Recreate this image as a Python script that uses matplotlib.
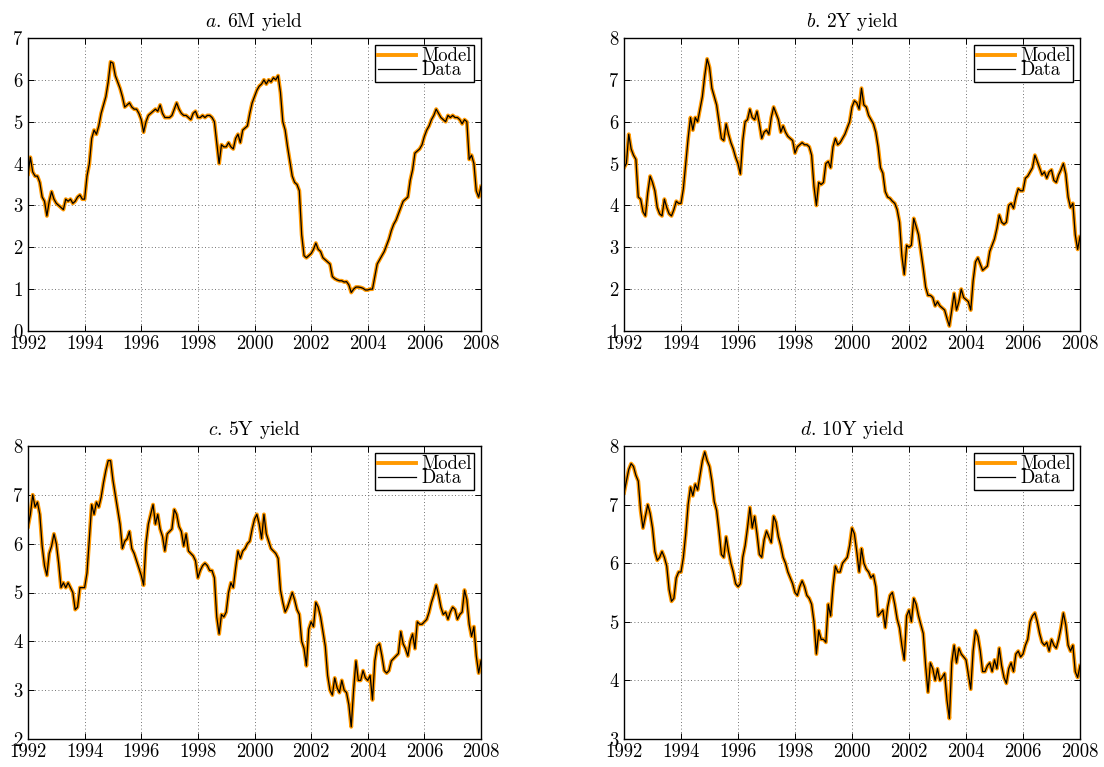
import numpy as np
import matplotlib
matplotlib.use("Agg")
import matplotlib.pyplot as plt

# ---------------- data (monthly, Jan 1992 ... Jan 2008) ----------------
start_year = 1992
titles = [r"$a$. 6M yield", r"$b$. 2Y yield", r"$c$. 5Y yield", r"$d$. 10Y yield"]
x_ticks = [1992, 1994, 1996, 1998, 2000, 2002, 2004, 2006, 2008]

data_6m = [
    3.75, 4.15, 3.8, 3.7, 3.7, 3.55, 3.2, 3.1, 2.75, 3.1, 3.33, 3.15,      # 1992
    3.05, 3.0, 2.95, 2.9, 3.15, 3.1, 3.15, 3.05, 3.1, 3.2, 3.25, 3.15,     # 1993
    3.15, 3.7, 4.0, 4.6, 4.8, 4.7, 4.9, 5.2, 5.4, 5.6, 5.95, 6.43,         # 1994
    6.4, 6.1, 5.95, 5.8, 5.6, 5.35, 5.4, 5.45, 5.35, 5.3, 5.3, 5.2,        # 1995
    5.05, 4.75, 5.0, 5.15, 5.2, 5.25, 5.3, 5.25, 5.4, 5.2, 5.1, 5.1,       # 1996
    5.1, 5.15, 5.3, 5.45, 5.3, 5.2, 5.15, 5.15, 5.1, 5.05, 5.2, 5.25,      # 1997
    5.1, 5.1, 5.15, 5.1, 5.15, 5.15, 5.1, 5.0, 4.5, 4.0, 4.45, 4.4,        # 1998
    4.4, 4.5, 4.4, 4.35, 4.6, 4.7, 4.5, 4.8, 4.85, 4.9, 5.2, 5.45,         # 1999
    5.6, 5.75, 5.85, 5.9, 6.0, 5.9, 6.0, 5.95, 6.05, 6.0, 6.1, 5.7,        # 2000
    5.0, 4.8, 4.4, 4.05, 3.7, 3.55, 3.5, 3.35, 2.3, 1.8, 1.75, 1.8,        # 2001
    1.85, 1.95, 2.1, 1.95, 1.9, 1.75, 1.7, 1.65, 1.6, 1.3, 1.25, 1.22,     # 2002
    1.2, 1.2, 1.17, 1.18, 1.1, 0.92, 1.0, 1.05, 1.05, 1.04, 1.02, 0.98,    # 2003
    0.98, 1.0, 1.0, 1.3, 1.6, 1.7, 1.8, 1.9, 2.05, 2.2, 2.4, 2.55,         # 2004
    2.65, 2.8, 2.95, 3.1, 3.15, 3.2, 3.6, 3.85, 4.25, 4.3, 4.35, 4.45,     # 2005
    4.65, 4.8, 4.9, 5.05, 5.15, 5.3, 5.2, 5.1, 5.05, 5.0, 5.15, 5.1,       # 2006
    5.15, 5.1, 5.1, 5.05, 4.95, 5.05, 5.0, 4.1, 4.2, 4.0, 3.35, 3.2,       # 2007
    3.45,                                                                  # 2008
]

data_2y = [
    4.9, 5.0, 5.7, 5.35, 5.2, 5.1, 4.2, 4.15, 3.85, 3.75, 4.3, 4.7,        # 1992
    4.55, 4.35, 3.95, 3.8, 3.75, 4.15, 3.95, 3.8, 3.75, 3.9, 4.1, 4.05,    # 1993
    4.05, 4.4, 5.0, 5.6, 6.1, 5.8, 6.1, 6.0, 6.3, 6.6, 7.1, 7.5,           # 1994
    7.3, 6.8, 6.6, 6.4, 6.0, 5.6, 5.55, 5.95, 5.7, 5.5, 5.35, 5.15,        # 1995
    5.0, 4.75, 5.55, 6.0, 6.05, 6.3, 6.1, 6.05, 6.25, 5.95, 5.6, 5.75,     # 1996
    5.8, 5.7, 6.1, 6.35, 6.2, 6.05, 5.75, 5.9, 5.75, 5.65, 5.6, 5.55,      # 1997
    5.25, 5.4, 5.45, 5.5, 5.45, 5.45, 5.4, 5.2, 4.45, 4.0, 4.55, 4.5,      # 1998
    4.55, 5.0, 5.05, 4.9, 5.4, 5.6, 5.45, 5.5, 5.6, 5.7, 5.85, 6.0,        # 1999
    6.35, 6.5, 6.45, 6.3, 6.8, 6.4, 6.35, 6.15, 6.05, 5.95, 5.75, 5.4,     # 2000
    4.9, 4.77, 4.33, 4.2, 4.17, 4.1, 4.05, 3.9, 3.6, 2.8, 2.35, 3.05,      # 2001
    3.0, 3.05, 3.69, 3.5, 3.3, 2.9, 2.5, 2.05, 1.85, 1.85, 1.8, 1.6,       # 2002
    1.7, 1.6, 1.55, 1.5, 1.3, 1.12, 1.5, 1.9, 1.5, 1.7, 2.0, 1.8,          # 2003
    1.75, 1.7, 1.5, 2.2, 2.65, 2.75, 2.6, 2.45, 2.5, 2.55, 2.9, 3.05,      # 2004
    3.2, 3.45, 3.77, 3.6, 3.55, 3.6, 4.0, 4.05, 3.93, 4.2, 4.4, 4.35,      # 2005
    4.35, 4.65, 4.7, 4.8, 4.9, 5.2, 5.05, 4.89, 4.73, 4.8, 4.65, 4.8,      # 2006
    4.85, 4.6, 4.55, 4.73, 4.85, 5.0, 4.75, 4.2, 3.95, 4.05, 3.3, 2.95,    # 2007
    3.25,                                                                  # 2008
]

data_5y = [
    6.35, 6.6, 7.0, 6.75, 6.85, 6.6, 5.95, 5.55, 5.35, 5.8, 5.95, 6.2,     # 1992
    6.0, 5.6, 5.1, 5.2, 5.1, 5.2, 5.1, 5.0, 4.65, 4.7, 5.1, 5.1,           # 1993
    5.1, 5.4, 6.1, 6.8, 6.6, 6.85, 6.75, 6.95, 7.25, 7.5, 7.7, 7.7,        # 1994
    7.3, 7.0, 6.7, 6.4, 5.9, 6.05, 6.1, 6.25, 5.9, 5.8, 5.65, 5.5,         # 1995
    5.35, 5.15, 6.0, 6.4, 6.6, 6.8, 6.4, 6.6, 6.3, 6.15, 5.85, 6.2,        # 1996
    6.25, 6.3, 6.7, 6.6, 6.35, 6.25, 5.95, 6.2, 5.85, 5.8, 5.75, 5.65,     # 1997
    5.3, 5.45, 5.55, 5.6, 5.55, 5.45, 5.45, 5.3, 4.5, 4.15, 4.55, 4.5,     # 1998
    4.6, 5.0, 5.2, 5.1, 5.5, 5.85, 5.7, 5.85, 5.9, 6.0, 6.05, 6.3,         # 1999
    6.5, 6.6, 6.4, 6.1, 6.6, 6.2, 6.05, 5.9, 5.85, 5.8, 5.7, 5.05,         # 2000
    4.8, 4.6, 4.7, 4.85, 5.0, 4.85, 4.65, 4.55, 4.0, 3.85, 3.5, 4.25,      # 2001
    4.4, 4.3, 4.8, 4.7, 4.5, 4.2, 3.9, 3.3, 3.0, 2.9, 3.25, 3.05,          # 2002
    2.95, 3.2, 3.0, 2.95, 2.7, 2.25, 3.0, 3.6, 3.2, 3.2, 3.4, 3.25,        # 2003
    3.2, 3.3, 2.8, 3.6, 3.9, 3.95, 3.7, 3.4, 3.35, 3.4, 3.6, 3.65,         # 2004
    3.7, 3.75, 4.2, 3.95, 3.85, 3.7, 4.0, 4.15, 3.85, 4.4, 4.35, 4.35,     # 2005
    4.4, 4.45, 4.6, 4.8, 4.95, 5.15, 4.95, 4.7, 4.55, 4.6, 4.45, 4.6,      # 2006
    4.7, 4.65, 4.45, 4.55, 4.6, 5.05, 4.85, 4.35, 4.1, 4.3, 3.7, 3.35,     # 2007
    3.6,                                                                   # 2008
]

data_10y = [
    7.2, 7.4, 7.6, 7.7, 7.65, 7.5, 7.4, 6.9, 6.6, 6.8, 7.0, 6.85,          # 1992
    6.6, 6.2, 6.05, 6.1, 6.2, 6.1, 5.95, 5.55, 5.35, 5.4, 5.75, 5.85,      # 1993
    5.85, 6.1, 6.5, 7.0, 7.3, 7.15, 7.35, 7.25, 7.5, 7.75, 7.9, 7.75,      # 1994
    7.65, 7.4, 7.05, 6.9, 6.55, 6.15, 6.1, 6.45, 6.2, 6.0, 5.85, 5.65,     # 1995
    5.6, 5.65, 6.1, 6.3, 6.6, 6.95, 6.6, 6.8, 6.5, 6.15, 6.1, 6.4,         # 1996
    6.55, 6.45, 6.35, 6.8, 6.7, 6.45, 6.3, 6.1, 6.0, 5.85, 5.75, 5.65,     # 1997
    5.5, 5.45, 5.6, 5.7, 5.6, 5.45, 5.4, 5.3, 5.0, 4.45, 4.85, 4.7,        # 1998
    4.7, 4.65, 5.3, 5.1, 5.6, 5.95, 5.85, 5.85, 6.0, 6.05, 6.1, 6.3,       # 1999
    6.6, 6.5, 6.2, 5.85, 6.25, 6.0, 5.9, 5.85, 5.75, 5.8, 5.6, 5.1,        # 2000
    5.15, 5.2, 4.9, 5.25, 5.45, 5.5, 5.3, 5.05, 4.9, 4.6, 4.35, 5.1,       # 2001
    5.2, 5.0, 5.4, 5.3, 5.1, 4.95, 4.8, 4.25, 3.8, 4.3, 4.2, 4.0,          # 2002
    4.2, 4.0, 4.05, 4.12, 3.66, 3.35, 4.3, 4.6, 4.3, 4.55, 4.45, 4.4,      # 2003
    4.35, 4.1, 3.85, 4.5, 4.85, 4.75, 4.5, 4.15, 4.15, 4.25, 4.3, 4.15,    # 2004
    4.35, 4.2, 4.55, 4.25, 4.05, 3.95, 4.2, 4.3, 4.15, 4.45, 4.5, 4.4,     # 2005
    4.45, 4.6, 4.7, 5.0, 5.1, 5.15, 5.0, 4.8, 4.65, 4.6, 4.65, 4.5,        # 2006
    4.7, 4.6, 4.55, 4.7, 4.9, 5.15, 4.95, 4.6, 4.5, 4.6, 4.15, 4.05,       # 2007
    4.25,                                                                  # 2008
]

# Model fit is visually indistinguishable from the data
model_6m, model_2y, model_5y, model_10y = data_6m, data_2y, data_5y, data_10y

y_limits = [(0, 7), (1, 8), (2, 8), (3, 8)]

# ---------------- style ----------------
plt.rcParams["font.family"] = "serif"
plt.rcParams["font.serif"] = ["cmr10", "DejaVu Serif"]
plt.rcParams["mathtext.fontset"] = "cm"
plt.rcParams["axes.unicode_minus"] = False

fig = plt.figure(figsize=(11.04, 7.67), dpi=100)
W, H = 1104.0, 767.0
boxes = [
    (28, 38, 481, 331),
    (624, 38, 1080, 331),
    (28, 446, 481, 739),
    (624, 446, 1080, 739),
]

series = [(model_6m, data_6m), (model_2y, data_2y), (model_5y, data_5y), (model_10y, data_10y)]
n = len(data_6m)
dates = start_year + np.arange(n) / 12.0

for k, (x0, y0, x1, y1) in enumerate(boxes):
    ax = fig.add_axes([x0 / W, 1 - y1 / H, (x1 - x0) / W, (y1 - y0) / H])
    mdl, dat = series[k]
    ax.plot(dates, mdl, color="#FF9900", lw=2.8, solid_joinstyle="round", label="Model")
    ax.plot(dates, dat, color="black", lw=0.9, label="Data")
    ax.set_xlim(1992, 2008)
    lo, hi = y_limits[k]
    ax.set_ylim(lo, hi)
    ax.set_xticks(x_ticks)
    ax.set_yticks(range(lo, hi + 1))
    ax.tick_params(direction="in", top=True, right=True, length=4, width=0.7,
                   labelsize=13.5, colors="black")
    ax.tick_params(axis="x", pad=3)
    ax.tick_params(axis="y", pad=4)
    ax.grid(True, color="#444444", linestyle=(0, (1, 3)), linewidth=0.6)
    for s in ax.spines.values():
        s.set_linewidth(1.0)
        s.set_color("black")
    ax.set_title(titles[k], fontsize=14, pad=8)
    leg = ax.legend(loc="upper right", fontsize=13.5, frameon=True, fancybox=False,
                    edgecolor="black", framealpha=1, borderpad=0.15, labelspacing=-0.2,
                    handlelength=2.0, handletextpad=0.3, borderaxespad=0.35)
    leg.get_frame().set_linewidth(1.0)

fig.savefig("out.png", dpi=100)
